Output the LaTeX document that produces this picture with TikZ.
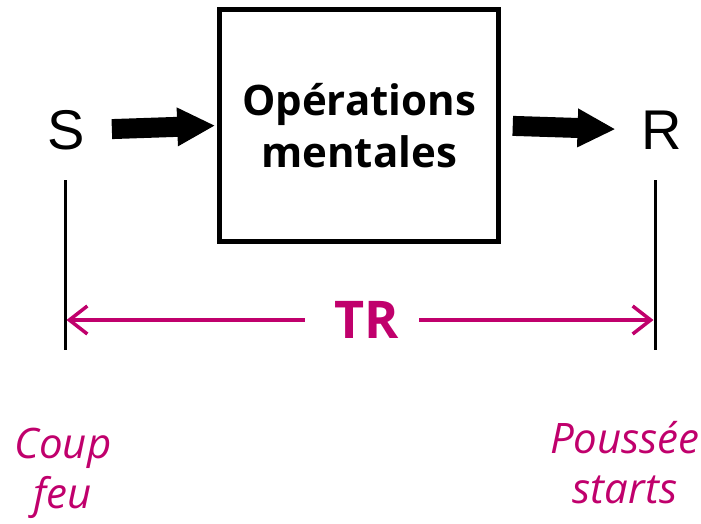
\documentclass[tikz,border=0pt]{standalone}
\usepackage{fontspec}
\setmainfont{Open Sans}
\newfontfamily\arialfont{Liberation Sans}
\usetikzlibrary{arrows.meta}
\definecolor{tagmag}{RGB}{192,0,108}
\begin{document}
\begin{tikzpicture}[x=1pt,y=-1pt,
  letter/.style={inner sep=0pt,font=\arialfont\fontsize{56}{56}\selectfont},
  blockarrow/.style={line width=20pt,-{Triangle[length=38pt 0,width=36pt 0]}},
  timeline/.style={line width=3pt},
  span/.style={tagmag,line width=3.5pt,-{Straight Barb[length=18pt 0,width=28pt 0]}},
  note/.style={tagmag,align=center,inner sep=0pt,font=\itshape\fontsize{42}{50}\selectfont}]
  \useasboundingbox (0,0) rectangle (701,523);
  % stimulus, processing box, response
  \node[letter] (S) at (66,130) {S};
  \node[letter] (R) at (662,130) {R};
  \node[draw,line width=4.5pt,minimum width=279pt,minimum height=232pt,inner sep=0pt,
        align=center,font=\bfseries\fontsize{42}{52}\selectfont] (box) at (359,125.5)
        {Opérations\\mentales};
  \draw[blockarrow,shorten <=27pt,shorten >=2pt] (S.east) -- (box.west);
  \draw[blockarrow,shorten <=12pt,shorten >=26pt] (box.east) -- (R.west);
  % reaction-time markers
  \coordinate (lt) at (65,180);
  \coordinate (lb) at (65,350);
  \coordinate (rt) at (655,180);
  \coordinate (rb) at (655,350);
  \draw[timeline] (lt) -- (lb);
  \draw[timeline] (rt) -- (rb);
  \coordinate (la) at (66.5,320);
  \coordinate (ra) at (653.5,320);
  \node[tagmag,inner sep=0pt,font=\bfseries\fontsize{52}{52}\selectfont] (TR) at (367,320) {TR};
  \draw[span,shorten <=30pt] (TR.west) -- (la);
  \draw[span,shorten <=20pt] (TR.east) -- (ra);
  % event labels
  \node[note] (coup) at (63,473) {Coup\\feu};
  \node[note] (pous) at (625,463) {Poussée\\starts};
\end{tikzpicture}
\end{document}
